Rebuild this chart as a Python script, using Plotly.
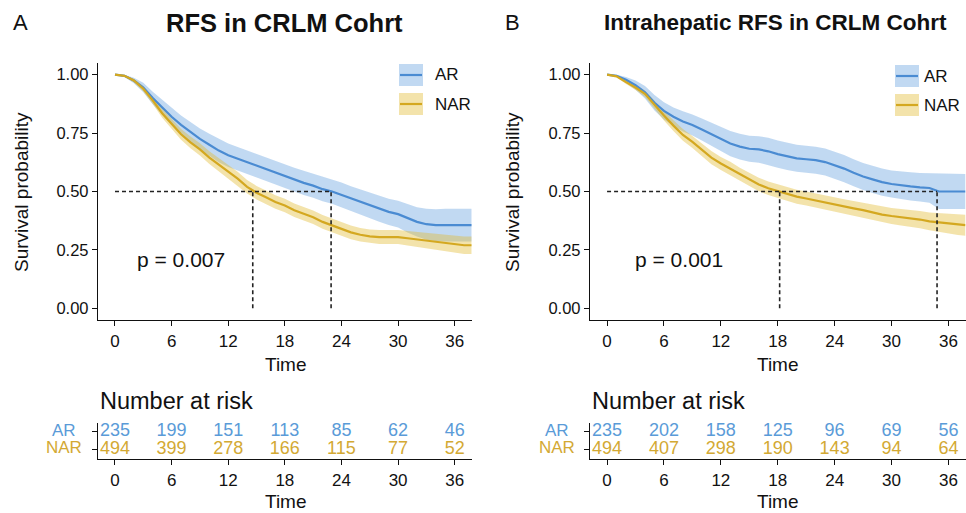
import plotly.graph_objects as go

# ---------------- data ----------------
time_grid = [0, 1, 2, 3, 4, 5, 6, 7, 8, 9, 10, 11, 12, 13, 14, 15, 16, 17, 18, 19,
             20, 21, 22, 23, 24, 25, 26, 27, 28, 29, 30, 31, 32, 33, 34, 35, 36, 37, 37.8]

# Panel A: RFS
a_ar_surv = [1.00, 0.995, 0.975, 0.945, 0.90, 0.86, 0.82, 0.785, 0.755, 0.725, 0.70, 0.675, 0.655, 0.64,
             0.625, 0.61, 0.595, 0.58, 0.565, 0.55, 0.537, 0.525, 0.51, 0.50, 0.485, 0.47, 0.455, 0.44,
             0.425, 0.413, 0.403, 0.385, 0.37, 0.36, 0.356, 0.356, 0.356, 0.356, 0.356]
a_ar_low = [1.00, 0.99, 0.963, 0.925, 0.873, 0.828, 0.784, 0.745, 0.712, 0.68, 0.653, 0.625, 0.605, 0.59,
            0.575, 0.56, 0.545, 0.53, 0.515, 0.498, 0.485, 0.473, 0.458, 0.448, 0.432, 0.417, 0.401, 0.385,
            0.37, 0.357, 0.346, 0.325, 0.307, 0.294, 0.288, 0.286, 0.286, 0.286, 0.286]
a_ar_up = [1.00, 1.00, 0.987, 0.965, 0.927, 0.892, 0.856, 0.825, 0.798, 0.77, 0.747, 0.725, 0.705, 0.69,
           0.675, 0.66, 0.645, 0.63, 0.615, 0.602, 0.589, 0.577, 0.562, 0.552, 0.538, 0.523, 0.509, 0.495,
           0.48, 0.469, 0.46, 0.445, 0.433, 0.426, 0.424, 0.426, 0.426, 0.426, 0.426]
a_nar_surv = [1.00, 0.995, 0.975, 0.94, 0.89, 0.835, 0.79, 0.745, 0.71, 0.68, 0.645, 0.615, 0.585, 0.555,
              0.52, 0.495, 0.475, 0.455, 0.44, 0.42, 0.405, 0.39, 0.37, 0.355, 0.34, 0.325, 0.315, 0.308,
              0.305, 0.305, 0.305, 0.30, 0.295, 0.29, 0.285, 0.28, 0.275, 0.27, 0.27]
a_nar_low = [1.00, 0.991, 0.967, 0.928, 0.874, 0.816, 0.769, 0.722, 0.685, 0.654, 0.618, 0.587, 0.557, 0.526,
             0.491, 0.466, 0.446, 0.426, 0.411, 0.391, 0.376, 0.361, 0.341, 0.326, 0.311, 0.296, 0.286, 0.279,
             0.275, 0.275, 0.275, 0.269, 0.263, 0.257, 0.251, 0.245, 0.239, 0.233, 0.233]
a_nar_up = [1.00, 0.999, 0.983, 0.952, 0.906, 0.854, 0.811, 0.768, 0.735, 0.706, 0.672, 0.643, 0.613, 0.584,
            0.549, 0.524, 0.504, 0.484, 0.469, 0.449, 0.434, 0.419, 0.399, 0.384, 0.369, 0.354, 0.344, 0.337,
            0.335, 0.335, 0.335, 0.331, 0.327, 0.323, 0.319, 0.315, 0.311, 0.307, 0.307]

# Panel B: intrahepatic RFS
b_ar_surv = [1.00, 0.995, 0.978, 0.955, 0.925, 0.88, 0.845, 0.82, 0.80, 0.785, 0.765, 0.745, 0.725, 0.705,
             0.692, 0.683, 0.68, 0.672, 0.66, 0.65, 0.642, 0.638, 0.634, 0.626, 0.613, 0.598, 0.58, 0.564,
             0.552, 0.54, 0.532, 0.526, 0.522, 0.518, 0.515, 0.50, 0.50, 0.50, 0.50]
b_ar_low = [1.00, 0.99, 0.966, 0.935, 0.898, 0.847, 0.808, 0.78, 0.757, 0.74, 0.718, 0.696, 0.673, 0.651,
            0.637, 0.627, 0.623, 0.614, 0.602, 0.592, 0.584, 0.58, 0.576, 0.568, 0.555, 0.54, 0.522, 0.506,
            0.494, 0.482, 0.474, 0.467, 0.462, 0.457, 0.452, 0.425, 0.425, 0.425, 0.425]
b_ar_up = [1.00, 1.00, 0.99, 0.975, 0.952, 0.913, 0.882, 0.86, 0.843, 0.83, 0.812, 0.794, 0.777, 0.759,
           0.747, 0.739, 0.737, 0.73, 0.718, 0.708, 0.70, 0.696, 0.692, 0.684, 0.671, 0.656, 0.638, 0.622,
           0.61, 0.598, 0.59, 0.585, 0.582, 0.579, 0.578, 0.575, 0.575, 0.575, 0.575]
b_nar_surv = [1.00, 0.993, 0.968, 0.945, 0.918, 0.87, 0.825, 0.782, 0.742, 0.712, 0.68, 0.645, 0.62, 0.598,
              0.573, 0.551, 0.53, 0.514, 0.502, 0.49, 0.478, 0.47, 0.461, 0.453, 0.445, 0.437, 0.428, 0.42,
              0.41, 0.401, 0.395, 0.39, 0.386, 0.38, 0.372, 0.367, 0.363, 0.358, 0.356]
b_nar_low = [1.00, 0.989, 0.96, 0.934, 0.904, 0.852, 0.804, 0.759, 0.717, 0.686, 0.653, 0.617, 0.592, 0.569,
             0.544, 0.522, 0.501, 0.485, 0.473, 0.461, 0.448, 0.44, 0.431, 0.423, 0.415, 0.407, 0.397, 0.389,
             0.378, 0.368, 0.361, 0.355, 0.35, 0.343, 0.334, 0.327, 0.321, 0.314, 0.311]
b_nar_up = [1.00, 0.997, 0.976, 0.956, 0.932, 0.888, 0.846, 0.805, 0.767, 0.738, 0.707, 0.673, 0.648, 0.627,
            0.602, 0.58, 0.559, 0.543, 0.531, 0.519, 0.508, 0.50, 0.491, 0.483, 0.475, 0.467, 0.459, 0.451,
            0.442, 0.434, 0.429, 0.425, 0.422, 0.417, 0.41, 0.407, 0.405, 0.402, 0.401]

medians_a = [14.6, 22.9]
medians_b = [18.2, 34.8]
pvalue_a = "p = 0.007"
pvalue_b = "p = 0.001"

risk_times = [0, 6, 12, 18, 24, 30, 36]
risk_a_ar = [235, 199, 151, 113, 85, 62, 46]
risk_a_nar = [494, 399, 278, 166, 115, 77, 52]
risk_b_ar = [235, 202, 158, 125, 96, 69, 56]
risk_b_nar = [494, 407, 298, 190, 143, 94, 64]

groups = ["AR", "NAR"]
title_a = "RFS in CRLM Cohrt"
title_b = "Intrahepatic RFS in CRLM Cohrt"
y_ticks = [0, 0.25, 0.5, 0.75, 1.0]
y_ticktext = ["0.00", "0.25", "0.50", "0.75", "1.00"]

# ---------------- style ----------------
W, H = 966, 513
FONT = "Liberation Sans, Arial, Helvetica, sans-serif"
BLUE = "#4A8BD2"
GOLD = "#D4A820"
BLUE_FILL = "rgba(74,144,217,0.34)"
GOLD_FILL = "rgba(225,185,45,0.40)"
BLUE_TXT = "#5A9BD8"
GOLD_TXT = "#D3A933"
INK = "#111111"


def px(x):
    return x / W


def py(y):
    return 1 - y / H


fig = go.Figure()


def add_panel(xa, ya, s_ar, lo_ar, up_ar, s_nar, lo_nar, up_nar):
    for lo, up, fillc in [(lo_ar, up_ar, BLUE_FILL), (lo_nar, up_nar, GOLD_FILL)]:
        fig.add_trace(go.Scatter(x=time_grid, y=lo, mode="lines", line=dict(width=0),
                                 xaxis=xa, yaxis=ya, hoverinfo="skip", showlegend=False))
        fig.add_trace(go.Scatter(x=time_grid, y=up, mode="lines", line=dict(width=0),
                                 fill="tonexty", fillcolor=fillc,
                                 xaxis=xa, yaxis=ya, hoverinfo="skip", showlegend=False))
    fig.add_trace(go.Scatter(x=time_grid, y=s_ar, mode="lines", line=dict(color=BLUE, width=2.2),
                             xaxis=xa, yaxis=ya, name="AR", showlegend=False))
    fig.add_trace(go.Scatter(x=time_grid, y=s_nar, mode="lines", line=dict(color=GOLD, width=2.2),
                             xaxis=xa, yaxis=ya, name="NAR", showlegend=False))


add_panel("x", "y", a_ar_surv, a_ar_low, a_ar_up, a_nar_surv, a_nar_low, a_nar_up)
add_panel("x2", "y2", b_ar_surv, b_ar_low, b_ar_up, b_nar_surv, b_nar_low, b_nar_up)

# risk tables
for xa, ya, ar, nar in [("x3", "y3", risk_a_ar, risk_a_nar), ("x4", "y4", risk_b_ar, risk_b_nar)]:
    fig.add_trace(go.Scatter(x=risk_times, y=[1] * len(risk_times), mode="text",
                             text=[str(v) for v in ar], textfont=dict(color=BLUE_TXT, size=18, family=FONT),
                             xaxis=xa, yaxis=ya, hoverinfo="skip", showlegend=False))
    fig.add_trace(go.Scatter(x=risk_times, y=[0] * len(risk_times), mode="text",
                             text=[str(v) for v in nar], textfont=dict(color=GOLD_TXT, size=18, family=FONT),
                             xaxis=xa, yaxis=ya, hoverinfo="skip", showlegend=False))

# median dashed lines
shapes = []
for xref, yref, meds in [("x", "y", medians_a), ("x2", "y2", medians_b)]:
    dash = dict(color="#222222", width=1.6, dash="4px,3px")
    shapes.append(dict(type="line", xref=xref, yref=yref, x0=0, x1=max(meds), y0=0.5, y1=0.5, line=dash))
    for m in meds:
        shapes.append(dict(type="line", xref=xref, yref=yref, x0=m, x1=m, y0=0, y1=0.5, line=dash))

# legend keys (manual)
annotations = []
for kx, tx, ys in [(399, 433, (64, 93)), (895, 922, (65, 94))]:
    for (top, col, fillc, lab) in [(ys[0], BLUE, BLUE_FILL, groups[0]), (ys[1], GOLD, GOLD_FILL, groups[1])]:
        shapes.append(dict(type="rect", xref="paper", yref="paper", x0=px(kx), x1=px(kx + 24),
                           y0=py(top + 22), y1=py(top), fillcolor=fillc, line=dict(width=0)))
        shapes.append(dict(type="line", xref="paper", yref="paper", x0=px(kx + 1), x1=px(kx + 23),
                           y0=py(top + 11), y1=py(top + 11), line=dict(color=col, width=2.2)))
        annotations.append(dict(text=lab, x=px(tx), y=py(top + 11), xref="paper", yref="paper",
                                xanchor="left", yanchor="middle", showarrow=False,
                                font=dict(size=17, color=INK, family=FONT)))

# text annotations
def ann(text, x, y, size, bold=False, xanchor="center", angle=0, color=INK):
    annotations.append(dict(text=f"<b>{text}</b>" if bold else text, x=px(x), y=py(y),
                            xref="paper", yref="paper", xanchor=xanchor, yanchor="middle",
                            showarrow=False, textangle=angle,
                            font=dict(size=size, color=color, family=FONT)))


ann("A", 20, 23, 22)
ann("B", 512, 23, 22)
ann(title_a, 284, 23, 25.5, bold=True)
ann(title_b, 775, 23, 22.5, bold=True)
ann("Survival probability", 21, 192, 19, angle=-90)
ann("Survival probability", 512, 192, 19, angle=-90)
ann("Time", 286, 364, 19)
ann("Time", 778, 364, 19)
ann(pvalue_a, 135, 259, 21, xanchor="left")
ann(pvalue_b, 633, 259, 21, xanchor="left")
ann("Number at risk", 98, 401, 23.5, xanchor="left")
ann("Number at risk", 590, 401, 23.5, xanchor="left")
ann(groups[0], 64, 430, 17, color=BLUE_TXT)
ann(groups[1], 64, 447, 17, color=GOLD_TXT)
ann(groups[0], 557, 430, 17, color=BLUE_TXT)
ann(groups[1], 557, 447, 17, color=GOLD_TXT)
ann("Time", 286, 501, 19)
ann("Time", 778, 501, 19)

# axes
xdom_a = [px(98), px(471.7)]
xdom_b = [px(590), px(965.5)]
ydom_main = [py(320), py(63)]
ydom_risk = [py(459), py(423)]

common_x = dict(range=[-1.8, 37.8], tickvals=risk_times, ticks="outside", ticklen=5, tickwidth=1.2,
                tickcolor=INK, showline=True, linecolor=INK, linewidth=1.3, showgrid=False, zeroline=False,
                tickfont=dict(size=17, color=INK, family=FONT))
main_y = dict(range=[-0.05, 1.05], tickvals=y_ticks, ticktext=y_ticktext, ticks="outside", ticklen=5,
              tickwidth=1.2, tickcolor=INK, showline=True, linecolor=INK, linewidth=1.3, showgrid=False,
              zeroline=False, tickfont=dict(size=16.5, color=INK, family=FONT))
risk_y = dict(range=[-0.55, 1.45], tickvals=[0, 1], ticktext=["", ""], ticks="outside", ticklen=5,
              tickwidth=1.2, tickcolor=INK, showline=True, linecolor=INK, linewidth=1.3, showgrid=False,
              zeroline=False)

fig.update_layout(
    width=W, height=H, margin=dict(l=0, r=0, t=0, b=0),
    paper_bgcolor="white", plot_bgcolor="white", showlegend=False,
    font=dict(family=FONT, color=INK),
    xaxis=dict(domain=xdom_a, anchor="y", **common_x),
    yaxis=dict(domain=ydom_main, anchor="x", **main_y),
    xaxis2=dict(domain=xdom_b, anchor="y2", **common_x),
    yaxis2=dict(domain=ydom_main, anchor="x2", **main_y),
    xaxis3=dict(domain=xdom_a, anchor="y3", **common_x),
    yaxis3=dict(domain=ydom_risk, anchor="x3", **risk_y),
    xaxis4=dict(domain=xdom_b, anchor="y4", **common_x),
    yaxis4=dict(domain=ydom_risk, anchor="x4", **risk_y),
    shapes=shapes, annotations=annotations,
)

fig.write_html("out.html", config={"displayModeBar": False},
               post_script="document.body.style.margin='0px';document.body.style.overflow='hidden';")
